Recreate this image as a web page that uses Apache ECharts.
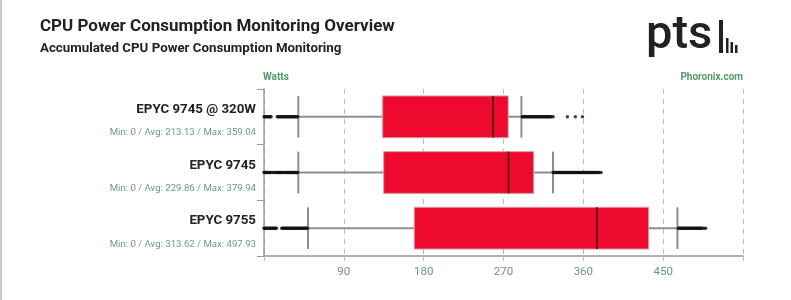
<!DOCTYPE html>
<html>
<head>
<meta charset="utf-8">
<script src="https://cdn.jsdelivr.net/npm/echarts@6/dist/echarts.min.js"></script>
<style>
html,body{margin:0;padding:0;background:#fff;}
#c{width:791px;height:300px;}
</style>
</head>
<body>
<div id="c"></div>
<script>
// ---- data ----
const categories = ['EPYC 9745 @ 320W', 'EPYC 9745', 'EPYC 9755'];
const statsText = [
  'Min: 0 / Avg: 213.13 / Max: 359.04',
  'Min: 0 / Avg: 229.86 / Max: 379.94',
  'Min: 0 / Avg: 313.62 / Max: 497.93'
];
// [whiskerLow, Q1, median, Q3, whiskerHigh]
const boxValues = [
  [38.7, 133.8, 258.4, 275.3, 290.2],
  [38.7, 134.9, 275.6, 304.1, 325.8],
  [49.6, 169.4, 375.2, 433.6, 466.1]
];
const outliers0 = [0,1,2,3,4,5,6,7,8,15,16,17,18,19,20,21,22,23,24,25,26,27,28,29,30,31,32,33,34,35,36,37,38,
  291,292,293,294,295,296,297,298,299,300,301,302,303,304,305,306,307,308,309,310,311,312,313,314,315,316,317,318,319,320,321,322,323,324,326,342,351,359.04];
const outliers1 = [0,1,2,3,4,5,6,7,8,10,11,13,14,15,16,17,18,19,20,21,23,24,25,26,27,28,29,30,31,32,33,34,35,36,37,38,
  326,327,328,329,330,331,332,333,334,335,336,337,338,339,340,341,342,343,344,345,346,347,348,349,350,351,352,353,354,355,356,357,358,359,360,361,362,363,364,365,366,367,368,369,370,371,372,373,374,375,376,377,378,379.94];
const outliers2 = [0,1,2,3,4,5,6,7,8,9,10,11,12,13,14,20,21,22,23,24,25,26,27,28,29,30,31,32,33,34,35,36,37,38,39,40,41,42,43,44,45,46,47,48,49,
  467,468,469,470,471,472,473,474,475,476,477,478,479,480,481,482,483,484,485,486,487,488,489,490,491,492,493,494,496,497.93];
const xTicks = [90, 180, 270, 360, 450];

const outlierData = [];
[outliers0, outliers1, outliers2].forEach((arr, i) => arr.forEach(v => outlierData.push([v, i])));

const chart = echarts.init(document.getElementById('c'), null, {renderer: 'canvas'});
const green = '#4f9a68';
const option = {
  backgroundColor: '#fff',
  animation: false,
  grid: {left: 264, right: 48, top: 89, bottom: 44},
  xAxis: {
    type: 'value', min: 0, max: 540, interval: 90,
    axisLine: {show: true, lineStyle: {color: '#999', width: 1.5}},
    axisTick: {show: true, length: 5, lineStyle: {color: '#bbb'}},
    splitLine: {show: true, lineStyle: {type: [5, 5], color: '#bbb'}},
    axisLabel: {
      color: '#6f9480', fontSize: 11.5, fontFamily: 'Roboto', margin: 10,
      formatter: v => xTicks.indexOf(v) >= 0 ? String(v) : ''
    }
  },
  yAxis: {
    type: 'category', data: categories, inverse: true,
    axisLine: {show: true, lineStyle: {color: '#999', width: 1.5}},
    axisTick: {show: true, length: 7, lineStyle: {color: '#999'}},
    splitLine: {show: false},
    axisLabel: {
      margin: 8,
      formatter: (v, i) => '{n|' + v + '}\n{s|' + statsText[i] + '}',
      padding: [12, 0, 0, 0],
      rich: {
        n: {fontFamily: 'Roboto', fontWeight: 'bold', fontSize: 13.3, color: '#222', lineHeight: 20, align: 'right'},
        s: {fontFamily: 'Roboto', fontSize: 9.6, color: '#6b9c80', lineHeight: 26, align: 'right'}
      }
    }
  },
  graphic: [
    {type: 'rect', left: 0, top: 0, shape: {width: 2, height: 300}, style: {fill: '#c8c8c8'}},
    {type: 'text', x: 40, y: 18, style: {text: 'CPU Power Consumption Monitoring Overview', font: 'bold 17px Roboto', fill: '#222', textVerticalAlign: 'top'}},
    {type: 'text', x: 40, y: 42, style: {text: 'Accumulated CPU Power Consumption Monitoring', font: 'bold 13.3px Roboto', fill: '#222', textVerticalAlign: 'top'}},
    {type: 'text', x: 263, y: 72, style: {text: 'Watts', font: 'bold 10px Roboto', fill: green, textVerticalAlign: 'top'}},
    {type: 'text', x: 743, y: 72, style: {text: 'Phoronix.com', font: 'bold 10px Roboto', fill: green, textAlign: 'right', textVerticalAlign: 'top'}},
    {type: 'text', x: 646, y: 13, style: {text: 'pts', font: '500 47px Roboto', fill: '#222', textVerticalAlign: 'top'}},
    {type: 'rect', shape: {x: 719, y: 20, width: 4, height: 33}, style: {fill: '#222'}},
    {type: 'rect', shape: {x: 726, y: 38, width: 2.5, height: 15}, style: {fill: '#222'}},
    {type: 'rect', shape: {x: 730.5, y: 42, width: 2.5, height: 11}, style: {fill: '#222'}},
    {type: 'rect', shape: {x: 735, y: 45, width: 2.5, height: 8}, style: {fill: '#222'}}
  ],
  series: [
    {
      type: 'custom',
      data: boxValues.map((b, i) => [i].concat(b)),
      encode: {x: [1, 2, 3, 4, 5], y: 0},
      z: 3,
      renderItem: function (params, api) {
        const idx = api.value(0);
        const lo = api.coord([api.value(1), idx]);
        const q1 = api.coord([api.value(2), idx]);
        const md = api.coord([api.value(3), idx]);
        const q3 = api.coord([api.value(4), idx]);
        const hi = api.coord([api.value(5), idx]);
        const band = api.size([0, 1])[1];
        const h = band * 0.75;
        const cy = lo[1];
        const grey = '#8f8f8f';
        return {
          type: 'group',
          children: [
            {type: 'line', shape: {x1: lo[0], y1: cy, x2: hi[0], y2: cy}, style: {stroke: grey, lineWidth: 2}},
            {type: 'line', shape: {x1: lo[0], y1: cy - h / 2, x2: lo[0], y2: cy + h / 2}, style: {stroke: grey, lineWidth: 2}},
            {type: 'line', shape: {x1: hi[0], y1: cy - h / 2, x2: hi[0], y2: cy + h / 2}, style: {stroke: grey, lineWidth: 2}},
            {type: 'rect', shape: {x: q1[0], y: cy - h / 2, width: q3[0] - q1[0], height: h}, style: {fill: '#ee0a2f', stroke: '#d99aa4', lineWidth: 1}},
            {type: 'line', shape: {x1: md[0], y1: cy - h / 2, x2: md[0], y2: cy + h / 2}, style: {stroke: '#3a0a10', lineWidth: 1.5}}
          ]
        };
      }
    },
    {
      type: 'scatter',
      data: outlierData,
      symbol: 'circle',
      symbolSize: 3.5,
      z: 4,
      itemStyle: {color: '#111'}
    }
  ]
};
chart.setOption(option);
</script>
</body>
</html>
